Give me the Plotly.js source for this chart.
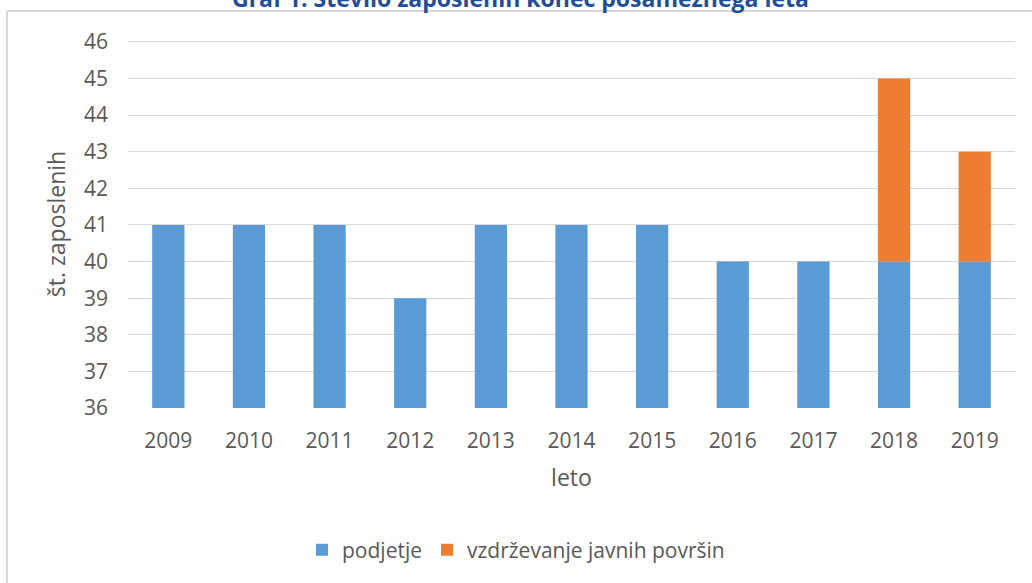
<!DOCTYPE html>
<html>
<head>
<meta charset="utf-8">
<script src="https://cdn.plot.ly/plotly-3.0.1.min.js"></script>
<style>html,body{margin:0;padding:0;background:#fff;}#chart{width:1032px;height:583px;}</style>
</head>
<body>
<div id="chart"></div>
<script>
const years = ['2009','2010','2011','2012','2013','2014','2015','2016','2017','2018','2019'];
const podjetje = [41, 41, 41, 39, 41, 41, 41, 40, 40, 40, 40];
const vzdrzevanje = [0, 0, 0, 0, 0, 0, 0, 0, 0, 5, 3];
const yTicks = [36, 37, 38, 39, 40, 41, 42, 43, 44, 45, 46];
const chartTitle = 'Graf 1: Število zaposlenih konec posameznega leta';

const base = 36;
const traces = [
  {
    type: 'bar', name: 'podjetje', x: years,
    y: podjetje.map(v => v - base), base: base,
    marker: {color: '#5B9BD5'}, width: 0.4
  },
  {
    type: 'bar', name: 'vzdrževanje javnih površin', x: years,
    y: vzdrzevanje, base: podjetje,
    marker: {color: '#ED7D31'}, width: 0.4
  }
];

const layout = {
  width: 1032, height: 583,
  margin: {l: 128, r: 17, t: 40, b: 175},
  paper_bgcolor: '#fff', plot_bgcolor: '#fff',
  barmode: 'overlay',
  font: {family: 'Open Sans, Liberation Sans, sans-serif', color: '#595959'},
  xaxis: {
    type: 'category', tickfont: {size: 21, color: '#595959'},
    showline: false, ticks: '', showgrid: false, ticklabelstandoff: 18,
    title: {text: 'leto', font: {size: 23, color: '#595959'}, standoff: 16}
  },
  yaxis: {
    range: [36, 46.05], tickvals: yTicks, ticktext: yTicks.map(String),
    tickfont: {size: 21, color: '#595959'},
    gridcolor: '#D9D9D9', gridwidth: 1, zeroline: false, showline: false,
    ticks: '', ticklabelstandoff: 19,
    title: {text: 'št. zaposlenih', font: {size: 23, color: '#595959'}, standoff: 11}
  },
  legend: {
    orientation: 'h', x: 0.5, xanchor: 'center', xref: 'container',
    y: 33/583, yanchor: 'middle', yref: 'container',
    font: {size: 21, color: '#595959'}, itemwidth: 30
  },
  annotations: [
    {text: '<b>' + chartTitle + '</b>', xref: 'paper', yref: 'paper',
     x: 0.443, y: 1 + 42/368, xanchor: 'center', yanchor: 'middle', showarrow: false,
     font: {size: 23, color: '#1F4E9A', family: 'Open Sans, sans-serif'}}
  ],
  shapes: [
    {type: 'line', xref: 'paper', yref: 'paper', x0: -0.1364, x1: 1.03, y0: 1.0788, y1: 1.0788,
     line: {color: '#D9D9D9', width: 2}},
    {type: 'line', xref: 'paper', yref: 'paper', x0: -0.1364, x1: -0.1364, y0: 1.0788, y1: -0.6,
     line: {color: '#D9D9D9', width: 2}}
  ]
};

Plotly.newPlot('chart', traces, layout, {displayModeBar: false, staticPlot: true});
</script>
</body>
</html>
